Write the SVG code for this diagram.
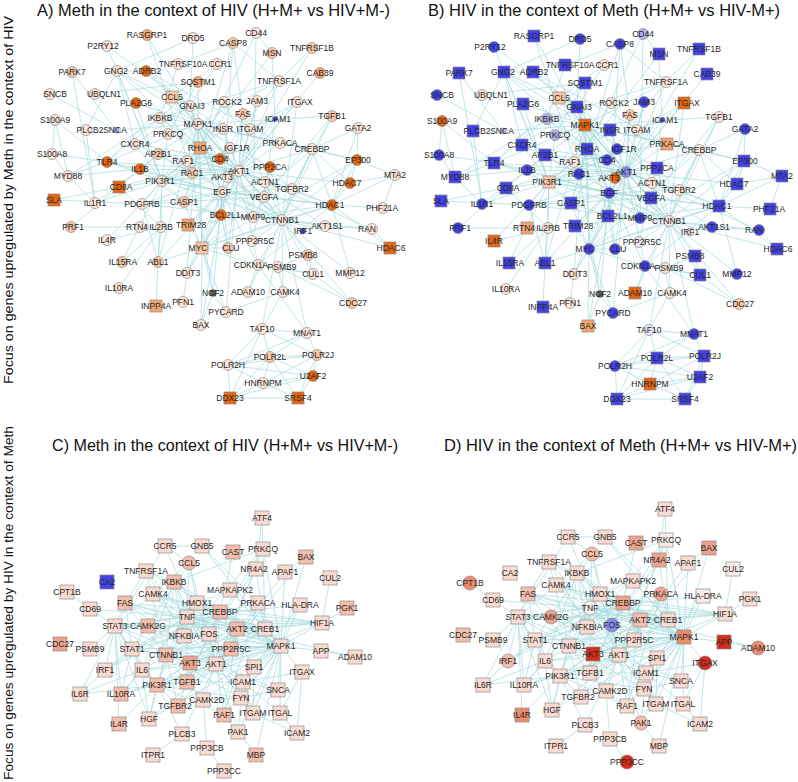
<svg xmlns="http://www.w3.org/2000/svg" width="798" height="782" viewBox="0 0 798 782">
<style>
.e{fill:none;stroke:#a3dadd;stroke-width:.8;stroke-opacity:.85}
.n{stroke:#8c8c8c;stroke-width:.7}
text{font-family:"Liberation Sans",Arial,sans-serif;font-size:8.5px;fill:#262626;text-anchor:middle}
.ttl{font-size:16.5px;fill:#111}
.ax{font-size:13.5px;fill:#111}
.p0{fill:#fde5da}.p1{fill:#f9c8a6}.p2{fill:#f4a56c}.p3{fill:#e6650f}
.bl{fill:#4242e6}.lv{fill:#b3b3f0}.mp{fill:#8c8ce8}.pl{fill:#ece4f2}.gy{fill:#5a5a5a}
.q0{fill:#f8ebe8}.q1{fill:#fadbd2}.q2{fill:#f5bdac}.q3{fill:#f0a38c}.q4{fill:#ed8a6b}.rd{fill:#d42d1c}.wt{fill:#f3efef}.fb{fill:#8686f0}
</style>
<rect width="798" height="782" fill="#fff"/>
<g id="titles">
<text class="ttl" x="213.5" y="16" textLength="353" lengthAdjust="spacingAndGlyphs">A) Meth in the context of HIV (H+M+ vs HIV+M-)</text>
<text class="ttl" x="604" y="16" textLength="352" lengthAdjust="spacingAndGlyphs">B) HIV in the context of Meth (H+M+ vs HIV-M+)</text>
<text class="ttl" x="225" y="451" textLength="346" lengthAdjust="spacingAndGlyphs">C) Meth in the context of HIV (H+M+ vs HIV+M-)</text>
<text class="ttl" x="620.5" y="451" textLength="353" lengthAdjust="spacingAndGlyphs">D) HIV in the context of Meth (H+M+ vs HIV-M+)</text>
<text class="ax" transform="translate(12.5,200) rotate(-90)" textLength="368" lengthAdjust="spacingAndGlyphs">Focus on genes upregulated by Meth in the context of HIV</text>
<text class="ax" transform="translate(12.5,603) rotate(-90)" textLength="354" lengthAdjust="spacingAndGlyphs">Focus on genes upregulated by HIV in the context of Meth</text>
</g>
<g id="connectors">
<path id="edgesA" class="e" d="M147 35 192 173M147 35 198 124M107 46 190 106M107 46 162 181M193 38 190 106M193 38 117 71M256 33 253 217M256 33 200 148M256 33 272 53M233 43 279 81M233 43 178 64M233 43 221 215M233 43 184 202M233 43 243 114M312 48 239 171M312 48 279 81M272 53 200 148M272 53 275 119M72 72 116 130M72 72 95 203M117 71 190 106M117 71 146 71M117 71 135 144M117 71 162 181M117 71 198 124M117 71 86 130M117 71 200 148M146 71 190 106M146 71 198 124M146 71 280 143M178 64 160 118M217 64 190 106M217 64 172 97M320 73 239 171M198 82 198 124M198 82 160 118M198 82 168 134M279 81 160 118M279 81 198 124M279 81 239 171M279 81 184 202M50 94 116 130M95 94 198 82M172 97 200 148M172 97 190 106M172 97 198 124M172 97 239 171M172 97 107 162M136 103 198 124M136 103 162 181M190 106 200 148M190 106 135 144M190 106 198 124M190 106 239 171M190 106 223 129M190 106 222 192M224 102 200 148M224 102 265 182M257 101 250 129M257 101 239 171M297 102 275 119M297 102 250 129M297 102 282 220M243 114 239 171M243 114 221 215M243 114 226 312M275 119 250 129M275 119 222 192M275 119 264 197M332 116 292 189M332 116 264 197M332 116 198 124M332 116 282 220M358 128 357 160M358 128 312 149M358 128 332 205M160 118 239 171M160 118 198 124M160 118 282 220M160 118 107 162M160 118 68 176M198 124 239 171M198 124 187 161M198 124 222 192M198 124 282 220M198 124 202 248M198 124 280 143M198 124 312 149M198 124 357 160M198 124 200 148M198 124 162 181M198 124 140 169M198 124 107 162M198 124 221 215M198 124 270 167M198 124 187 273M198 124 253 217M198 124 158 262M198 124 264 197M198 124 292 189M223 129 162 181M223 129 239 171M223 129 230 148M250 129 239 171M55 120 52 154M55 120 107 162M55 120 68 176M86 130 95 203M116 130 198 124M168 134 160 118M168 134 162 181M168 134 220 159M168 134 198 124M135 144 162 181M135 144 220 159M135 144 192 173M200 148 192 173M200 148 239 171M200 148 222 192M200 148 282 220M200 148 162 181M200 148 184 202M200 148 202 248M230 148 162 181M230 148 239 171M230 148 222 192M280 143 312 149M280 143 239 171M280 143 187 161M312 149 357 160M312 149 282 220M312 149 332 205M312 149 239 171M312 149 202 248M312 149 292 189M312 149 350 183M357 160 332 205M357 160 282 220M357 160 350 183M357 160 395 175M357 160 202 248M52 154 107 162M52 154 68 176M158 154 239 171M158 154 192 173M158 154 220 159M158 154 119 187M107 162 68 176M107 162 140 169M107 162 162 181M107 162 239 171M107 162 222 192M187 161 239 171M187 161 222 192M187 161 162 181M220 159 119 187M220 159 162 181M220 159 239 171M270 167 239 171M270 167 282 220M270 167 252 241M270 167 292 189M395 175 332 205M395 175 350 183M395 175 383 208M140 169 95 203M140 169 68 176M140 169 184 202M140 169 222 192M140 169 239 171M68 176 95 203M192 173 162 181M192 173 239 171M192 173 282 220M192 173 213 293M228 177 162 181M228 177 282 220M239 171 222 192M239 171 282 220M239 171 162 181M239 171 221 215M239 171 264 197M239 171 202 248M239 171 253 217M239 171 325 226M239 171 332 205M239 171 292 189M239 171 265 182M239 171 142 204M239 171 258 265M239 171 228 248M239 171 188 225M239 171 350 183M239 171 372 229M239 171 297 102M350 183 332 205M162 181 222 192M162 181 119 187M162 181 142 204M162 181 161 227M162 181 95 203M162 181 107 240M162 181 122 262M162 181 184 202M162 181 282 220M162 181 158 262M162 181 264 197M265 182 282 220M265 182 222 192M292 189 282 220M292 189 222 192M292 189 332 205M119 187 54 200M119 187 161 227M119 187 71 227M222 192 282 220M222 192 264 197M222 192 253 217M222 192 221 215M222 192 202 248M222 192 142 204M222 192 184 202M222 192 188 225M222 192 158 262M222 192 228 248M222 192 332 205M222 192 258 265M222 192 187 273M222 192 213 293M264 197 282 220M264 197 253 217M264 197 332 205M264 197 142 204M54 200 142 204M142 204 158 262M142 204 282 220M184 202 226 312M184 202 221 215M332 205 282 220M332 205 383 208M332 205 390 248M332 205 202 248M332 205 258 265M332 205 188 225M221 215 202 248M221 215 282 220M221 215 228 248M221 215 201 325M221 215 187 273M253 217 282 220M282 220 202 248M282 220 308 255M282 220 325 226M282 220 303 231M282 220 313 274M282 220 258 265M282 220 252 241M282 220 283 292M282 220 262 329M282 220 307 333M282 220 372 229M282 220 390 248M282 220 352 303M282 220 350 273M282 220 248 292M71 227 161 227M161 227 107 240M161 227 122 262M161 227 158 262M188 225 202 248M325 226 372 229M372 229 390 248M202 248 258 265M202 248 228 248M202 248 187 273M202 248 201 325M202 248 213 293M202 248 158 262M308 255 278 267M308 255 313 274M258 265 278 267M258 265 313 274M258 265 307 333M258 265 248 292M278 267 313 274M278 267 283 292M278 267 352 303M187 273 183 302M313 274 352 303M350 273 332 205M119 288 161 227M213 293 201 325M213 293 226 312M283 292 226 312M283 292 262 329M156 306 158 262M262 329 307 333M262 329 270 357M262 329 228 365M262 329 317 355M262 329 230 398M307 333 317 355M307 333 270 357M307 333 228 365M270 357 317 355M270 357 228 365M270 357 263 383M270 357 313 376M270 357 230 398M270 357 298 398M317 355 228 365M317 355 313 376M317 355 263 383M317 355 298 398M228 365 263 383M228 365 230 398M228 365 313 376M313 376 263 383M313 376 230 398M313 376 298 398M263 383 230 398M263 383 298 398M230 398 298 398"/>
<use href="#edgesA" transform="translate(387,1)"/>
<path id="edgesC" class="e" d="M262 518 265 629M262 518 256 569M165 546 202 546M165 546 189 563M165 546 216 664M165 546 115 626M202 546 281 646M202 546 258 603M233 552 220 612M263 549 174 582M263 549 281 646M263 549 209 634M263 549 184 636M263 549 216 664M306 557 285 572M306 557 281 646M306 557 216 664M189 563 216 664M189 563 115 626M189 563 187 617M189 563 197 603M189 563 132 649M146 571 187 617M146 571 174 582M146 571 125 603M146 571 184 636M146 571 281 646M146 571 166 655M256 569 265 629M256 569 209 634M256 569 216 664M285 572 281 646M285 572 216 664M330 578 322 623M174 582 184 636M174 582 187 617M174 582 216 664M174 582 166 655M174 582 237 629M174 582 142 670M174 582 281 646M67 592 90 609M153 594 220 612M153 594 265 629M153 594 209 634M153 594 216 664M153 594 281 646M230 590 265 629M230 590 281 646M230 590 197 603M125 603 187 617M125 603 216 664M125 603 115 626M125 603 132 649M125 603 220 612M125 603 281 646M125 603 166 655M125 603 231 649M197 603 187 617M197 603 281 646M197 603 216 664M197 603 322 623M258 603 265 629M258 603 220 612M258 603 281 646M258 603 224 715M258 603 216 664M300 605 254 667M300 605 281 646M300 605 187 617M347 608 322 623M90 609 187 617M90 609 115 626M220 612 265 629M220 612 115 626M220 612 132 649M220 612 166 655M220 612 216 664M220 612 281 646M220 612 322 623M220 612 209 634M220 612 184 636M220 612 254 667M220 612 105 670M220 612 187 682M187 617 184 636M187 617 216 664M187 617 281 646M187 617 142 670M187 617 132 649M187 617 209 634M187 617 237 629M187 617 243 682M187 617 121 694M187 617 265 629M187 617 187 682M187 617 105 670M187 617 355 657M187 617 157 685M187 617 322 623M187 617 166 655M187 617 115 626M322 623 281 646M322 623 216 664M322 623 237 629M322 623 115 626M322 623 265 629M115 626 132 649M115 626 142 670M115 626 80 694M115 626 216 664M115 626 166 655M115 626 105 670M115 626 157 685M115 626 121 694M115 626 281 646M115 626 149 719M115 626 148 626M115 626 119 724M115 626 90 649M148 626 265 629M148 626 216 664M237 629 216 664M237 629 281 646M237 629 157 685M237 629 166 655M237 629 265 629M237 629 224 715M237 629 231 649M265 629 281 646M265 629 216 664M265 629 231 649M265 629 166 655M184 636 216 664M184 636 166 655M184 636 132 649M209 634 281 646M209 634 216 664M209 634 187 682M209 634 166 655M60 644 90 649M132 649 105 670M132 649 142 670M132 649 216 664M132 649 281 646M132 649 121 694M132 649 157 685M132 649 166 655M166 655 216 664M166 655 157 685M166 655 281 646M166 655 187 682M166 655 178 706M166 655 241 698M166 655 243 682M166 655 149 719M166 655 142 670M166 655 190 663M231 649 216 664M231 649 281 646M231 649 190 663M281 646 216 664M281 646 254 667M281 646 302 672M281 646 321 651M281 646 157 685M281 646 187 682M281 646 243 682M281 646 224 715M281 646 241 698M281 646 278 690M281 646 253 713M281 646 203 700M281 646 238 732M281 646 142 670M281 646 280 713M281 646 149 719M281 646 256 755M321 651 355 657M190 663 157 685M190 663 187 682M216 664 157 685M216 664 187 682M216 664 243 682M216 664 224 715M216 664 241 698M216 664 203 700M216 664 238 732M216 664 142 670M216 664 254 667M216 664 178 706M216 664 182 734M216 664 149 719M216 664 253 713M216 664 278 690M216 664 121 694M105 670 80 694M142 670 80 694M142 670 157 685M142 670 121 694M142 670 149 719M254 667 253 713M254 667 243 682M302 672 243 682M302 672 297 733M302 672 280 713M157 685 80 694M157 685 121 694M157 685 119 724M157 685 149 719M157 685 241 698M157 685 182 734M157 685 224 715M157 685 187 682M157 685 178 706M187 682 178 706M187 682 243 682M187 682 203 700M243 682 253 713M243 682 280 713M243 682 241 698M243 682 278 690M278 690 241 698M241 698 238 732M241 698 253 713M241 698 203 700M203 700 207 748M203 700 224 715M224 715 238 732M238 732 256 755M253 713 297 733M280 713 297 733M182 734 153 755M207 748 224 771"/>
<use href="#edgesC" transform="translate(403,-9)"/>
</g>
<g id="panelA">
<g id="a-RASGRP1"><circle class="n p2" cx="147" cy="35" r="5.5"/><text x="147" y="38">RASGRP1</text></g>
<g id="a-P2RY12"><circle class="n p0" cx="107" cy="46" r="5.5"/><text x="103" y="49">P2RY12</text></g>
<g id="a-DRD5"><circle class="n p0" cx="193" cy="38" r="5.5"/><text x="193" y="41">DRD5</text></g>
<g id="a-CD44"><circle class="n p0" cx="256" cy="33" r="5.5"/><text x="256" y="36">CD44</text></g>
<g id="a-CASP8"><circle class="n p1" cx="233" cy="43" r="5.5"/><text x="233" y="46">CASP8</text></g>
<g id="a-TNFRSF1B"><circle class="n p1" cx="312" cy="48" r="5.5"/><text x="312" y="51">TNFRSF1B</text></g>
<g id="a-MSN"><circle class="n p1" cx="272" cy="53" r="5.5"/><text x="272" y="56">MSN</text></g>
<g id="a-PARK7"><circle class="n p1" cx="72" cy="72" r="5.5"/><text x="72" y="75">PARK7</text></g>
<g id="a-GNG2"><circle class="n p0" cx="117" cy="71" r="5.5"/><text x="116" y="74">GNG2</text></g>
<g id="a-ADRB2"><circle class="n p3" cx="146" cy="71" r="5.5"/><text x="147" y="74">ADRB2</text></g>
<g id="a-TNFRSF10A"><circle class="n p0" cx="178" cy="64" r="5.5"/><text x="183" y="67">TNFRSF10A</text></g>
<g id="a-CCR1"><circle class="n p0" cx="217" cy="64" r="5.5"/><text x="220" y="67">CCR1</text></g>
<g id="a-CAB39"><circle class="n p2" cx="320" cy="73" r="5.5"/><text x="320" y="76">CAB39</text></g>
<g id="a-SQSTM1"><circle class="n p2" cx="198" cy="82" r="5.5"/><text x="198" y="85">SQSTM1</text></g>
<g id="a-TNFRSF1A"><circle class="n p0" cx="279" cy="81" r="5.5"/><text x="279" y="84">TNFRSF1A</text></g>
<g id="a-SNCB"><circle class="n p0" cx="50" cy="94" r="5.5"/><text x="55" y="97">SNCB</text></g>
<g id="a-UBQLN1"><circle class="n p0" cx="95" cy="94" r="5.5"/><text x="104" y="97">UBQLN1</text></g>
<g id="a-CCL5"><rect class="n p1" x="166" y="91" width="12" height="12"/><text x="172" y="100">CCL5</text></g>
<g id="a-PLA2G6"><circle class="n p3" cx="136" cy="103" r="5.5"/><text x="136" y="106">PLA2G6</text></g>
<g id="a-GNAI3"><circle class="n p0" cx="190" cy="106" r="5.5"/><text x="192" y="109">GNAI3</text></g>
<g id="a-ROCK2"><circle class="n p0" cx="224" cy="102" r="5.5"/><text x="227" y="105">ROCK2</text></g>
<g id="a-JAM3"><circle class="n p0" cx="257" cy="101" r="5.5"/><text x="257" y="104">JAM3</text></g>
<g id="a-ITGAX"><circle class="n p0" cx="297" cy="102" r="5.5"/><text x="300" y="105">ITGAX</text></g>
<g id="a-FAS"><circle class="n p1" cx="243" cy="114" r="5.5"/><text x="243" y="117">FAS</text></g>
<g id="a-ICAM1"><circle class="n bl" cx="275" cy="119" r="2.5"/><text x="278" y="122">ICAM1</text></g>
<g id="a-TGFB1"><circle class="n p1" cx="332" cy="116" r="5.5"/><text x="332" y="119">TGFB1</text></g>
<g id="a-GATA2"><circle class="n p0" cx="358" cy="128" r="5.5"/><text x="358" y="131">GATA2</text></g>
<g id="a-IKBKB"><circle class="n p0" cx="160" cy="118" r="5.5"/><text x="160" y="121">IKBKB</text></g>
<g id="a-MAPK1"><circle class="n p0" cx="198" cy="124" r="5.5"/><text x="198" y="127">MAPK1</text></g>
<g id="a-INSR"><circle class="n p0" cx="223" cy="129" r="5.5"/><text x="223" y="132">INSR</text></g>
<g id="a-ITGAM"><circle class="n p0" cx="250" cy="129" r="5.5"/><text x="250" y="132">ITGAM</text></g>
<g id="a-S100A9"><circle class="n p0" cx="55" cy="120" r="5.5"/><text x="55" y="123">S100A9</text></g>
<g id="a-PLCB2"><circle class="n p0" cx="86" cy="130" r="5.5"/><text x="90" y="133">PLCB2</text></g>
<g id="a-SNCA"><circle class="n lv" cx="116" cy="130" r="3"/><text x="115" y="133">SNCA</text></g>
<g id="a-PRKCQ"><circle class="n p0" cx="168" cy="134" r="5.5"/><text x="168" y="137">PRKCQ</text></g>
<g id="a-CXCR4"><circle class="n p0" cx="135" cy="144" r="5.5"/><text x="135" y="147">CXCR4</text></g>
<g id="a-RHOA"><rect class="n p2" x="194" y="142" width="12" height="12"/><text x="200" y="151">RHOA</text></g>
<g id="a-IGF1R"><circle class="n p0" cx="230" cy="148" r="5.5"/><text x="237" y="151">IGF1R</text></g>
<g id="a-PRKACA"><circle class="n p0" cx="280" cy="143" r="5.5"/><text x="280" y="146">PRKACA</text></g>
<g id="a-CREBBP"><circle class="n p0" cx="312" cy="149" r="5.5"/><text x="312" y="152">CREBBP</text></g>
<g id="a-EP300"><circle class="n p3" cx="357" cy="160" r="5.5"/><text x="358" y="163">EP300</text></g>
<g id="a-S100A8"><circle class="n p0" cx="52" cy="154" r="5.5"/><text x="52" y="157">S100A8</text></g>
<g id="a-AP2B1"><circle class="n p1" cx="158" cy="154" r="5.5"/><text x="158" y="157">AP2B1</text></g>
<g id="a-TLR4"><circle class="n p3" cx="107" cy="162" r="5.5"/><text x="107" y="165">TLR4</text></g>
<g id="a-RAF1"><circle class="n p0" cx="187" cy="161" r="5.5"/><text x="183" y="164">RAF1</text></g>
<g id="a-CD4"><circle class="n p3" cx="220" cy="159" r="5.5"/><text x="220" y="162">CD4</text></g>
<g id="a-PPP2CA"><circle class="n p3" cx="270" cy="167" r="5.5"/><text x="270" y="170">PPP2CA</text></g>
<g id="a-MTA2"><circle class="n p0" cx="395" cy="175" r="5.5"/><text x="395" y="178">MTA2</text></g>
<g id="a-IL1B"><circle class="n p3" cx="140" cy="169" r="5.5"/><text x="140" y="172">IL1B</text></g>
<g id="a-MYD88"><circle class="n p0" cx="68" cy="176" r="5.5"/><text x="68" y="179">MYD88</text></g>
<g id="a-RAC1"><circle class="n p1" cx="192" cy="173" r="5.5"/><text x="192" y="176">RAC1</text></g>
<g id="a-AKT3"><circle class="n p0" cx="228" cy="177" r="5.5"/><text x="222" y="180">AKT3</text></g>
<g id="a-AKT1"><circle class="n p0" cx="239" cy="171" r="5.5"/><text x="239" y="174">AKT1</text></g>
<g id="a-HDAC7"><circle class="n p3" cx="350" cy="183" r="5.5"/><text x="347" y="186">HDAC7</text></g>
<g id="a-PIK3R1"><circle class="n p0" cx="162" cy="181" r="5.5"/><text x="160" y="184">PIK3R1</text></g>
<g id="a-ACTN1"><circle class="n p0" cx="265" cy="182" r="5.5"/><text x="265" y="185">ACTN1</text></g>
<g id="a-TGFBR2"><circle class="n p0" cx="292" cy="189" r="5.5"/><text x="292" y="192">TGFBR2</text></g>
<g id="a-CD8A"><rect class="n p3" x="113" y="181" width="12" height="12"/><text x="121" y="190">CD8A</text></g>
<g id="a-EGF"><circle class="n p0" cx="222" cy="192" r="5.5"/><text x="222" y="195">EGF</text></g>
<g id="a-VEGFA"><circle class="n p0" cx="264" cy="197" r="5.5"/><text x="264" y="200">VEGFA</text></g>
<g id="a-SLA"><rect class="n p3" x="48" y="194" width="12" height="12"/><text x="54" y="203">SLA</text></g>
<g id="a-IL1R1"><circle class="n p0" cx="95" cy="203" r="5.5"/><text x="95" y="206">IL1R1</text></g>
<g id="a-PDGFRB"><circle class="n p0" cx="142" cy="204" r="5.5"/><text x="142" y="207">PDGFRB</text></g>
<g id="a-CASP1"><circle class="n p1" cx="184" cy="202" r="5.5"/><text x="184" y="205">CASP1</text></g>
<g id="a-HDAC1"><circle class="n p3" cx="332" cy="205" r="5.5"/><text x="330" y="208">HDAC1</text></g>
<g id="a-PHF21A"><circle class="n p0" cx="383" cy="208" r="5.5"/><text x="382" y="211">PHF21A</text></g>
<g id="a-BCL2L1"><circle class="n p3" cx="221" cy="215" r="5.5"/><text x="225" y="218">BCL2L1</text></g>
<g id="a-MMP9"><circle class="n p0" cx="253" cy="217" r="5.5"/><text x="253" y="220">MMP9</text></g>
<g id="a-CTNNB1"><circle class="n p0" cx="282" cy="220" r="5.5"/><text x="282" y="223">CTNNB1</text></g>
<g id="a-PRF1"><circle class="n p1" cx="71" cy="227" r="5.5"/><text x="73" y="230">PRF1</text></g>
<g id="a-RTN4"><circle class="n p0" cx="140" cy="227" r="5.5"/><text x="137" y="230">RTN4</text></g>
<g id="a-IL2RB"><circle class="n p0" cx="161" cy="227" r="5.5"/><text x="161" y="230">IL2RB</text></g>
<g id="a-TRIM28"><rect class="n p2" x="182" y="219" width="12" height="12"/><text x="191" y="228">TRIM28</text></g>
<g id="a-AKT1S1"><circle class="n p0" cx="325" cy="226" r="5.5"/><text x="327" y="229">AKT1S1</text></g>
<g id="a-RAN"><circle class="n p0" cx="372" cy="229" r="5.5"/><text x="367" y="232">RAN</text></g>
<g id="a-IRF1"><circle class="n bl" cx="303" cy="231" r="3"/><text x="303" y="234">IRF1</text></g>
<g id="a-IL4R"><circle class="n p0" cx="107" cy="240" r="5.5"/><text x="107" y="243">IL4R</text></g>
<g id="a-HDAC6"><rect class="n p3" x="384" y="242" width="12" height="12"/><text x="391" y="251">HDAC6</text></g>
<g id="a-MYC"><rect class="n p1" x="196" y="242" width="12" height="12"/><text x="198" y="251">MYC</text></g>
<g id="a-CLU"><circle class="n p1" cx="228" cy="248" r="5.5"/><text x="231" y="251">CLU</text></g>
<g id="a-PPP2R5C"><circle class="n p0" cx="252" cy="241" r="5.5"/><text x="255" y="244">PPP2R5C</text></g>
<g id="a-PSMB8"><circle class="n p1" cx="308" cy="255" r="5.5"/><text x="303" y="258">PSMB8</text></g>
<g id="a-IL15RA"><circle class="n p1" cx="122" cy="262" r="5.5"/><text x="123" y="265">IL15RA</text></g>
<g id="a-ABL1"><circle class="n p1" cx="158" cy="262" r="5.5"/><text x="158" y="265">ABL1</text></g>
<g id="a-CDKN1A"><circle class="n p0" cx="258" cy="265" r="5.5"/><text x="251" y="268">CDKN1A</text></g>
<g id="a-PSMB9"><circle class="n p0" cx="278" cy="267" r="5.5"/><text x="282" y="270">PSMB9</text></g>
<g id="a-DDIT3"><circle class="n p0" cx="187" cy="273" r="5.5"/><text x="188" y="276">DDIT3</text></g>
<g id="a-CUL1"><circle class="n p0" cx="313" cy="274" r="5.5"/><text x="313" y="277">CUL1</text></g>
<g id="a-MMP12"><circle class="n p0" cx="350" cy="273" r="5.5"/><text x="350" y="276">MMP12</text></g>
<g id="a-IL10RA"><circle class="n p0" cx="119" cy="288" r="5.5"/><text x="119" y="291">IL10RA</text></g>
<g id="a-NCF2"><circle class="n gy" cx="213" cy="293" r="3.5"/><text x="213" y="296">NCF2</text></g>
<g id="a-ADAM10"><circle class="n p0" cx="248" cy="292" r="5.5"/><text x="248" y="295">ADAM10</text></g>
<g id="a-CAMK4"><circle class="n p0" cx="283" cy="292" r="5.5"/><text x="285" y="295">CAMK4</text></g>
<g id="a-INPP4A"><rect class="n p2" x="150" y="300" width="12" height="12"/><text x="156" y="309">INPP4A</text></g>
<g id="a-PFN1"><circle class="n p0" cx="183" cy="302" r="5.5"/><text x="183" y="305">PFN1</text></g>
<g id="a-CDC27"><circle class="n p1" cx="352" cy="303" r="5.5"/><text x="353" y="306">CDC27</text></g>
<g id="a-PYCARD"><circle class="n p0" cx="226" cy="312" r="5.5"/><text x="226" y="315">PYCARD</text></g>
<g id="a-BAX"><circle class="n p0" cx="201" cy="325" r="5.5"/><text x="201" y="328">BAX</text></g>
<g id="a-TAF10"><circle class="n p0" cx="262" cy="329" r="5.5"/><text x="262" y="332">TAF10</text></g>
<g id="a-MNAT1"><circle class="n p0" cx="307" cy="333" r="5.5"/><text x="307" y="336">MNAT1</text></g>
<g id="a-POLR2L"><circle class="n p1" cx="270" cy="357" r="5.5"/><text x="270" y="360">POLR2L</text></g>
<g id="a-POLR2J"><circle class="n p1" cx="317" cy="355" r="5.5"/><text x="318" y="358">POLR2J</text></g>
<g id="a-POLR2H"><circle class="n p0" cx="228" cy="365" r="5.5"/><text x="228" y="368">POLR2H</text></g>
<g id="a-U2AF2"><circle class="n p3" cx="313" cy="376" r="5.5"/><text x="313" y="379">U2AF2</text></g>
<g id="a-HNRNPM"><circle class="n p0" cx="263" cy="383" r="5.5"/><text x="263" y="386">HNRNPM</text></g>
<g id="a-DDX23"><rect class="n p3" x="224" y="392" width="12" height="12"/><text x="230" y="401">DDX23</text></g>
<g id="a-SRSF4"><rect class="n p3" x="292" y="392" width="12" height="12"/><text x="298" y="401">SRSF4</text></g>
</g>
<g id="panelB" transform="translate(387,1)">
<g id="b-RASGRP1"><rect class="n bl" x="141" y="29" width="12" height="12"/><text x="147" y="38">RASGRP1</text></g>
<g id="b-P2RY12"><circle class="n bl" cx="107" cy="46" r="5.5"/><text x="103" y="49">P2RY12</text></g>
<g id="b-DRD5"><circle class="n bl" cx="193" cy="38" r="5.5"/><text x="193" y="41">DRD5</text></g>
<g id="b-CD44"><circle class="n lv" cx="256" cy="33" r="5.5"/><text x="256" y="36">CD44</text></g>
<g id="b-CASP8"><circle class="n bl" cx="233" cy="43" r="5.5"/><text x="233" y="46">CASP8</text></g>
<g id="b-TNFRSF1B"><rect class="n bl" x="306" y="42" width="12" height="12"/><text x="312" y="51">TNFRSF1B</text></g>
<g id="b-MSN"><rect class="n bl" x="266" y="47" width="12" height="12"/><text x="272" y="56">MSN</text></g>
<g id="b-PARK7"><rect class="n bl" x="66" y="66" width="12" height="12"/><text x="72" y="75">PARK7</text></g>
<g id="b-GNG2"><rect class="n bl" x="111" y="65" width="12" height="12"/><text x="116" y="74">GNG2</text></g>
<g id="b-ADRB2"><rect class="n bl" x="140" y="65" width="12" height="12"/><text x="147" y="74">ADRB2</text></g>
<g id="b-TNFRSF10A"><rect class="n bl" x="172" y="58" width="12" height="12"/><text x="183" y="67">TNFRSF10A</text></g>
<g id="b-CCR1"><circle class="n p0" cx="217" cy="64" r="5.5"/><text x="220" y="67">CCR1</text></g>
<g id="b-CAB39"><rect class="n bl" x="314" y="67" width="12" height="12"/><text x="320" y="76">CAB39</text></g>
<g id="b-SQSTM1"><rect class="n bl" x="192" y="76" width="12" height="12"/><text x="198" y="85">SQSTM1</text></g>
<g id="b-TNFRSF1A"><circle class="n p0" cx="279" cy="81" r="5.5"/><text x="279" y="84">TNFRSF1A</text></g>
<g id="b-SNCB"><circle class="n bl" cx="50" cy="94" r="5.5"/><text x="55" y="97">SNCB</text></g>
<g id="b-UBQLN1"><circle class="n p0" cx="95" cy="94" r="5.5"/><text x="104" y="97">UBQLN1</text></g>
<g id="b-CCL5"><rect class="n p1" x="166" y="91" width="12" height="12"/><text x="172" y="100">CCL5</text></g>
<g id="b-PLA2G6"><rect class="n bl" x="130" y="97" width="12" height="12"/><text x="136" y="106">PLA2G6</text></g>
<g id="b-GNAI3"><rect class="n bl" x="184" y="100" width="12" height="12"/><text x="192" y="109">GNAI3</text></g>
<g id="b-ROCK2"><circle class="n p0" cx="224" cy="102" r="5.5"/><text x="227" y="105">ROCK2</text></g>
<g id="b-JAM3"><circle class="n bl" cx="257" cy="101" r="5.5"/><text x="257" y="104">JAM3</text></g>
<g id="b-ITGAX"><rect class="n p3" x="291" y="96" width="12" height="12"/><text x="300" y="105">ITGAX</text></g>
<g id="b-FAS"><circle class="n p1" cx="243" cy="114" r="5.5"/><text x="243" y="117">FAS</text></g>
<g id="b-ICAM1"><circle class="n bl" cx="275" cy="119" r="2.5"/><text x="278" y="122">ICAM1</text></g>
<g id="b-TGFB1"><circle class="n p0" cx="332" cy="116" r="5.5"/><text x="332" y="119">TGFB1</text></g>
<g id="b-GATA2"><circle class="n bl" cx="358" cy="128" r="5.5"/><text x="358" y="131">GATA2</text></g>
<g id="b-IKBKB"><circle class="n lv" cx="160" cy="118" r="5.5"/><text x="160" y="121">IKBKB</text></g>
<g id="b-MAPK1"><rect class="n p3" x="192" y="118" width="12" height="12"/><text x="198" y="127">MAPK1</text></g>
<g id="b-INSR"><rect class="n bl" x="217" y="123" width="12" height="12"/><text x="223" y="132">INSR</text></g>
<g id="b-ITGAM"><circle class="n p0" cx="250" cy="129" r="5.5"/><text x="250" y="132">ITGAM</text></g>
<g id="b-S100A9"><circle class="n p3" cx="55" cy="120" r="5.5"/><text x="55" y="123">S100A9</text></g>
<g id="b-PLCB2"><rect class="n bl" x="80" y="124" width="12" height="12"/><text x="90" y="133">PLCB2</text></g>
<g id="b-SNCA"><circle class="n lv" cx="116" cy="130" r="3"/><text x="115" y="133">SNCA</text></g>
<g id="b-PRKCQ"><circle class="n lv" cx="168" cy="134" r="5.5"/><text x="168" y="137">PRKCQ</text></g>
<g id="b-CXCR4"><rect class="n bl" x="129" y="138" width="12" height="12"/><text x="135" y="147">CXCR4</text></g>
<g id="b-RHOA"><rect class="n bl" x="194" y="142" width="12" height="12"/><text x="200" y="151">RHOA</text></g>
<g id="b-IGF1R"><circle class="n bl" cx="230" cy="148" r="5.5"/><text x="237" y="151">IGF1R</text></g>
<g id="b-PRKACA"><rect class="n p2" x="274" y="137" width="12" height="12"/><text x="280" y="146">PRKACA</text></g>
<g id="b-CREBBP"><circle class="n p0" cx="312" cy="149" r="5.5"/><text x="312" y="152">CREBBP</text></g>
<g id="b-EP300"><rect class="n bl" x="351" y="154" width="12" height="12"/><text x="358" y="163">EP300</text></g>
<g id="b-S100A8"><circle class="n bl" cx="52" cy="154" r="5.5"/><text x="52" y="157">S100A8</text></g>
<g id="b-AP2B1"><rect class="n bl" x="152" y="148" width="12" height="12"/><text x="158" y="157">AP2B1</text></g>
<g id="b-TLR4"><rect class="n bl" x="101" y="156" width="12" height="12"/><text x="107" y="165">TLR4</text></g>
<g id="b-RAF1"><circle class="n p0" cx="187" cy="161" r="5.5"/><text x="183" y="164">RAF1</text></g>
<g id="b-CD4"><circle class="n bl" cx="220" cy="159" r="5.5"/><text x="220" y="162">CD4</text></g>
<g id="b-PPP2CA"><rect class="n bl" x="264" y="161" width="12" height="12"/><text x="270" y="170">PPP2CA</text></g>
<g id="b-MTA2"><rect class="n bl" x="389" y="169" width="12" height="12"/><text x="395" y="178">MTA2</text></g>
<g id="b-IL1B"><circle class="n bl" cx="140" cy="169" r="5.5"/><text x="140" y="172">IL1B</text></g>
<g id="b-MYD88"><rect class="n bl" x="62" y="170" width="12" height="12"/><text x="68" y="179">MYD88</text></g>
<g id="b-RAC1"><circle class="n bl" cx="192" cy="173" r="5.5"/><text x="192" y="176">RAC1</text></g>
<g id="b-AKT3"><circle class="n p3" cx="228" cy="177" r="5.5"/><text x="222" y="180">AKT3</text></g>
<g id="b-AKT1"><circle class="n mp" cx="239" cy="171" r="5.5"/><text x="239" y="174">AKT1</text></g>
<g id="b-HDAC7"><rect class="n bl" x="344" y="177" width="12" height="12"/><text x="347" y="186">HDAC7</text></g>
<g id="b-PIK3R1"><rect class="n p1" x="156" y="175" width="12" height="12"/><text x="160" y="184">PIK3R1</text></g>
<g id="b-ACTN1"><circle class="n p0" cx="265" cy="182" r="5.5"/><text x="265" y="185">ACTN1</text></g>
<g id="b-TGFBR2"><circle class="n p0" cx="292" cy="189" r="5.5"/><text x="292" y="192">TGFBR2</text></g>
<g id="b-CD8A"><rect class="n bl" x="113" y="181" width="12" height="12"/><text x="121" y="190">CD8A</text></g>
<g id="b-EGF"><circle class="n bl" cx="222" cy="192" r="5.5"/><text x="222" y="195">EGF</text></g>
<g id="b-VEGFA"><rect class="n bl" x="258" y="191" width="12" height="12"/><text x="264" y="200">VEGFA</text></g>
<g id="b-SLA"><rect class="n bl" x="48" y="194" width="12" height="12"/><text x="54" y="203">SLA</text></g>
<g id="b-IL1R1"><circle class="n bl" cx="95" cy="203" r="5.5"/><text x="95" y="206">IL1R1</text></g>
<g id="b-PDGFRB"><circle class="n bl" cx="142" cy="204" r="5.5"/><text x="142" y="207">PDGFRB</text></g>
<g id="b-CASP1"><rect class="n bl" x="178" y="196" width="12" height="12"/><text x="184" y="205">CASP1</text></g>
<g id="b-HDAC1"><rect class="n bl" x="326" y="199" width="12" height="12"/><text x="330" y="208">HDAC1</text></g>
<g id="b-PHF21A"><rect class="n bl" x="377" y="202" width="12" height="12"/><text x="382" y="211">PHF21A</text></g>
<g id="b-BCL2L1"><rect class="n bl" x="215" y="209" width="12" height="12"/><text x="225" y="218">BCL2L1</text></g>
<g id="b-MMP9"><circle class="n bl" cx="253" cy="217" r="5.5"/><text x="253" y="220">MMP9</text></g>
<g id="b-CTNNB1"><circle class="n p0" cx="282" cy="220" r="5.5"/><text x="282" y="223">CTNNB1</text></g>
<g id="b-PRF1"><circle class="n bl" cx="71" cy="227" r="5.5"/><text x="73" y="230">PRF1</text></g>
<g id="b-RTN4"><rect class="n p2" x="134" y="221" width="12" height="12"/><text x="137" y="230">RTN4</text></g>
<g id="b-IL2RB"><circle class="n p0" cx="161" cy="227" r="5.5"/><text x="161" y="230">IL2RB</text></g>
<g id="b-TRIM28"><rect class="n bl" x="182" y="219" width="12" height="12"/><text x="191" y="228">TRIM28</text></g>
<g id="b-AKT1S1"><circle class="n bl" cx="325" cy="226" r="5.5"/><text x="327" y="229">AKT1S1</text></g>
<g id="b-RAN"><circle class="n bl" cx="372" cy="229" r="5.5"/><text x="367" y="232">RAN</text></g>
<g id="b-IRF1"><circle class="n p0" cx="303" cy="231" r="4"/><text x="303" y="234">IRF1</text></g>
<g id="b-IL4R"><rect class="n p3" x="101" y="234" width="12" height="12"/><text x="107" y="243">IL4R</text></g>
<g id="b-HDAC6"><rect class="n bl" x="384" y="242" width="12" height="12"/><text x="391" y="251">HDAC6</text></g>
<g id="b-MYC"><circle class="n bl" cx="202" cy="248" r="5.5"/><text x="198" y="251">MYC</text></g>
<g id="b-CLU"><circle class="n bl" cx="228" cy="248" r="5.5"/><text x="231" y="251">CLU</text></g>
<g id="b-PPP2R5C"><circle class="n pl" cx="252" cy="241" r="5.5"/><text x="255" y="244">PPP2R5C</text></g>
<g id="b-PSMB8"><rect class="n bl" x="302" y="249" width="12" height="12"/><text x="303" y="258">PSMB8</text></g>
<g id="b-IL15RA"><rect class="n bl" x="116" y="256" width="12" height="12"/><text x="123" y="265">IL15RA</text></g>
<g id="b-ABL1"><rect class="n bl" x="152" y="256" width="12" height="12"/><text x="158" y="265">ABL1</text></g>
<g id="b-CDKN1A"><circle class="n bl" cx="258" cy="265" r="5.5"/><text x="251" y="268">CDKN1A</text></g>
<g id="b-PSMB9"><circle class="n p0" cx="278" cy="267" r="5.5"/><text x="282" y="270">PSMB9</text></g>
<g id="b-DDIT3"><circle class="n p0" cx="187" cy="273" r="5.5"/><text x="188" y="276">DDIT3</text></g>
<g id="b-CUL1"><rect class="n bl" x="307" y="268" width="12" height="12"/><text x="313" y="277">CUL1</text></g>
<g id="b-MMP12"><circle class="n bl" cx="350" cy="273" r="5.5"/><text x="350" y="276">MMP12</text></g>
<g id="b-IL10RA"><circle class="n p0" cx="119" cy="288" r="5.5"/><text x="119" y="291">IL10RA</text></g>
<g id="b-NCF2"><circle class="n gy" cx="213" cy="293" r="3.5"/><text x="213" y="296">NCF2</text></g>
<g id="b-ADAM10"><rect class="n p3" x="242" y="286" width="12" height="12"/><text x="248" y="295">ADAM10</text></g>
<g id="b-CAMK4"><circle class="n p0" cx="283" cy="292" r="5.5"/><text x="285" y="295">CAMK4</text></g>
<g id="b-INPP4A"><rect class="n bl" x="150" y="300" width="12" height="12"/><text x="156" y="309">INPP4A</text></g>
<g id="b-PFN1"><circle class="n p0" cx="183" cy="302" r="5.5"/><text x="183" y="305">PFN1</text></g>
<g id="b-CDC27"><circle class="n p1" cx="352" cy="303" r="5.5"/><text x="353" y="306">CDC27</text></g>
<g id="b-PYCARD"><circle class="n bl" cx="226" cy="312" r="5.5"/><text x="226" y="315">PYCARD</text></g>
<g id="b-BAX"><rect class="n p2" x="195" y="319" width="12" height="12"/><text x="201" y="328">BAX</text></g>
<g id="b-TAF10"><circle class="n pl" cx="262" cy="329" r="5.5"/><text x="262" y="332">TAF10</text></g>
<g id="b-MNAT1"><circle class="n bl" cx="307" cy="333" r="5.5"/><text x="307" y="336">MNAT1</text></g>
<g id="b-POLR2L"><rect class="n bl" x="264" y="351" width="12" height="12"/><text x="270" y="360">POLR2L</text></g>
<g id="b-POLR2J"><rect class="n bl" x="311" y="349" width="12" height="12"/><text x="318" y="358">POLR2J</text></g>
<g id="b-POLR2H"><circle class="n bl" cx="228" cy="365" r="5.5"/><text x="228" y="368">POLR2H</text></g>
<g id="b-U2AF2"><rect class="n bl" x="307" y="370" width="12" height="12"/><text x="313" y="379">U2AF2</text></g>
<g id="b-HNRNPM"><rect class="n p3" x="257" y="377" width="12" height="12"/><text x="263" y="386">HNRNPM</text></g>
<g id="b-DDX23"><rect class="n bl" x="224" y="392" width="12" height="12"/><text x="230" y="401">DDX23</text></g>
<g id="b-SRSF4"><rect class="n bl" x="292" y="392" width="12" height="12"/><text x="298" y="401">SRSF4</text></g>
</g>
<g id="panelC">
<g id="c-ATF4"><rect class="n q1" x="255" y="511" width="14" height="14"/><text x="262" y="521">ATF4</text></g>
<g id="c-CCR5"><rect class="n q1" x="158" y="539" width="14" height="14"/><text x="165" y="549">CCR5</text></g>
<g id="c-GNB5"><rect class="n q1" x="195" y="539" width="14" height="14"/><text x="202" y="549">GNB5</text></g>
<g id="c-CAST"><rect class="n q2" x="226" y="545" width="14" height="14"/><text x="233" y="555">CAST</text></g>
<g id="c-PRKCQ"><rect class="n q1" x="256" y="542" width="14" height="14"/><text x="263" y="552">PRKCQ</text></g>
<g id="c-BAX"><rect class="n q2" x="299" y="550" width="14" height="14"/><text x="306" y="560">BAX</text></g>
<g id="c-CCL5"><circle class="n q2" cx="189" cy="563" r="7"/><text x="189" y="566">CCL5</text></g>
<g id="c-TNFRSF1A"><rect class="n q1" x="139" y="564" width="14" height="14"/><text x="146" y="574">TNFRSF1A</text></g>
<g id="c-NR4A2"><rect class="n q1" x="249" y="562" width="14" height="14"/><text x="254" y="572">NR4A2</text></g>
<g id="c-APAF1"><rect class="n q1" x="278" y="565" width="14" height="14"/><text x="285" y="575">APAF1</text></g>
<g id="c-CUL2"><rect class="n q1" x="323" y="571" width="14" height="14"/><text x="330" y="581">CUL2</text></g>
<g id="c-CA2"><rect class="n bl" x="100" y="575" width="14" height="14"/><text x="107" y="585">CA2</text></g>
<g id="c-IKBKB"><rect class="n q2" x="167" y="575" width="14" height="14"/><text x="174" y="585">IKBKB</text></g>
<g id="c-CPT1B"><rect class="n q1" x="60" y="585" width="14" height="14"/><text x="67" y="595">CPT1B</text></g>
<g id="c-CAMK4"><rect class="n q1" x="146" y="587" width="14" height="14"/><text x="153" y="597">CAMK4</text></g>
<g id="c-MAPKAPK2"><rect class="n q1" x="223" y="583" width="14" height="14"/><text x="230" y="593">MAPKAPK2</text></g>
<g id="c-FAS"><rect class="n q2" x="118" y="596" width="14" height="14"/><text x="125" y="606">FAS</text></g>
<g id="c-HMOX1"><rect class="n q1" x="190" y="596" width="14" height="14"/><text x="197" y="606">HMOX1</text></g>
<g id="c-PRKACA"><rect class="n q1" x="251" y="596" width="14" height="14"/><text x="258" y="606">PRKACA</text></g>
<g id="c-HLA-DRA"><rect class="n q1" x="293" y="598" width="14" height="14"/><text x="300" y="608">HLA-DRA</text></g>
<g id="c-PGK1"><rect class="n q2" x="340" y="601" width="14" height="14"/><text x="347" y="611">PGK1</text></g>
<g id="c-CD69"><rect class="n q1" x="83" y="602" width="14" height="14"/><text x="90" y="612">CD69</text></g>
<g id="c-CREBBP"><rect class="n q2" x="213" y="605" width="14" height="14"/><text x="220" y="615">CREBBP</text></g>
<g id="c-TNF"><rect class="n q1" x="180" y="610" width="14" height="14"/><text x="187" y="620">TNF</text></g>
<g id="c-HIF1A"><rect class="n q1" x="315" y="616" width="14" height="14"/><text x="322" y="626">HIF1A</text></g>
<g id="c-STAT3"><rect class="n q1" x="108" y="619" width="14" height="14"/><text x="115" y="629">STAT3</text></g>
<g id="c-CAMK2G"><rect class="n q2" x="141" y="619" width="14" height="14"/><text x="148" y="629">CAMK2G</text></g>
<g id="c-AKT2"><rect class="n q2" x="230" y="622" width="14" height="14"/><text x="237" y="632">AKT2</text></g>
<g id="c-CREB1"><rect class="n q1" x="258" y="622" width="14" height="14"/><text x="265" y="632">CREB1</text></g>
<g id="c-NFKBIA"><rect class="n q1" x="177" y="629" width="14" height="14"/><text x="184" y="639">NFKBIA</text></g>
<g id="c-FOS"><rect class="n q1" x="202" y="627" width="14" height="14"/><text x="209" y="637">FOS</text></g>
<g id="c-CDC27"><rect class="n q3" x="53" y="637" width="14" height="14"/><text x="60" y="647">CDC27</text></g>
<g id="c-PSMB9"><rect class="n q1" x="83" y="642" width="14" height="14"/><text x="90" y="652">PSMB9</text></g>
<g id="c-STAT1"><rect class="n q1" x="125" y="642" width="14" height="14"/><text x="132" y="652">STAT1</text></g>
<g id="c-CTNNB1"><rect class="n q2" x="159" y="648" width="14" height="14"/><text x="166" y="658">CTNNB1</text></g>
<g id="c-PPP2R5C"><rect class="n q2" x="224" y="642" width="14" height="14"/><text x="231" y="652">PPP2R5C</text></g>
<g id="c-MAPK1"><rect class="n q1" x="274" y="639" width="14" height="14"/><text x="281" y="649">MAPK1</text></g>
<g id="c-APP"><rect class="n q1" x="314" y="644" width="14" height="14"/><text x="321" y="654">APP</text></g>
<g id="c-ADAM10"><rect class="n q1" x="348" y="650" width="14" height="14"/><text x="355" y="660">ADAM10</text></g>
<g id="c-AKT3"><rect class="n q3" x="183" y="656" width="14" height="14"/><text x="190" y="666">AKT3</text></g>
<g id="c-AKT1"><rect class="n q1" x="209" y="657" width="14" height="14"/><text x="216" y="667">AKT1</text></g>
<g id="c-IRF1"><rect class="n q1" x="98" y="663" width="14" height="14"/><text x="105" y="673">IRF1</text></g>
<g id="c-IL6"><rect class="n q1" x="135" y="663" width="14" height="14"/><text x="142" y="673">IL6</text></g>
<g id="c-SPI1"><rect class="n q1" x="247" y="660" width="14" height="14"/><text x="254" y="670">SPI1</text></g>
<g id="c-ITGAX"><rect class="n q1" x="295" y="665" width="14" height="14"/><text x="302" y="675">ITGAX</text></g>
<g id="c-PIK3R1"><rect class="n q2" x="150" y="678" width="14" height="14"/><text x="157" y="688">PIK3R1</text></g>
<g id="c-TGFB1"><rect class="n q2" x="180" y="675" width="14" height="14"/><text x="187" y="685">TGFB1</text></g>
<g id="c-ICAM1"><rect class="n q1" x="236" y="675" width="14" height="14"/><text x="243" y="685">ICAM1</text></g>
<g id="c-SNCA"><rect class="n q1" x="271" y="683" width="14" height="14"/><text x="278" y="693">SNCA</text></g>
<g id="c-IL6R"><rect class="n q1" x="73" y="687" width="14" height="14"/><text x="80" y="697">IL6R</text></g>
<g id="c-IL10RA"><rect class="n q2" x="114" y="687" width="14" height="14"/><text x="121" y="697">IL10RA</text></g>
<g id="c-FYN"><rect class="n q1" x="234" y="691" width="14" height="14"/><text x="241" y="701">FYN</text></g>
<g id="c-TGFBR2"><rect class="n q2" x="171" y="699" width="14" height="14"/><text x="175" y="709">TGFBR2</text></g>
<g id="c-CAMK2D"><rect class="n q1" x="196" y="693" width="14" height="14"/><text x="207" y="703">CAMK2D</text></g>
<g id="c-RAF1"><rect class="n q2" x="217" y="708" width="14" height="14"/><text x="224" y="718">RAF1</text></g>
<g id="c-ITGAM"><rect class="n q1" x="246" y="706" width="14" height="14"/><text x="253" y="716">ITGAM</text></g>
<g id="c-ITGAL"><rect class="n q1" x="273" y="706" width="14" height="14"/><text x="280" y="716">ITGAL</text></g>
<g id="c-IL4R"><rect class="n q2" x="112" y="717" width="14" height="14"/><text x="119" y="727">IL4R</text></g>
<g id="c-HGF"><rect class="n q1" x="142" y="712" width="14" height="14"/><text x="149" y="722">HGF</text></g>
<g id="c-PLCB3"><rect class="n q1" x="175" y="727" width="14" height="14"/><text x="182" y="737">PLCB3</text></g>
<g id="c-PAK1"><rect class="n q1" x="231" y="725" width="14" height="14"/><text x="238" y="735">PAK1</text></g>
<g id="c-ICAM2"><rect class="n q1" x="290" y="726" width="14" height="14"/><text x="297" y="736">ICAM2</text></g>
<g id="c-PPP3CB"><rect class="n q1" x="200" y="741" width="14" height="14"/><text x="207" y="751">PPP3CB</text></g>
<g id="c-ITPR1"><rect class="n q1" x="146" y="748" width="14" height="14"/><text x="153" y="758">ITPR1</text></g>
<g id="c-MBP"><rect class="n q2" x="249" y="748" width="14" height="14"/><text x="256" y="758">MBP</text></g>
<g id="c-PPP3CC"><rect class="n q1" x="217" y="764" width="14" height="14"/><text x="224" y="774">PPP3CC</text></g>
</g>
<g id="panelD" transform="translate(403,-9)">
<g id="d-ATF4"><rect class="n q1" x="255" y="511" width="14" height="14"/><text x="262" y="521">ATF4</text></g>
<g id="d-CCR5"><rect class="n q1" x="158" y="539" width="14" height="14"/><text x="165" y="549">CCR5</text></g>
<g id="d-GNB5"><rect class="n q1" x="195" y="539" width="14" height="14"/><text x="202" y="549">GNB5</text></g>
<g id="d-CAST"><rect class="n q3" x="226" y="545" width="14" height="14"/><text x="233" y="555">CAST</text></g>
<g id="d-PRKCQ"><rect class="n q0" x="256" y="542" width="14" height="14"/><text x="263" y="552">PRKCQ</text></g>
<g id="d-BAX"><rect class="n q3" x="299" y="550" width="14" height="14"/><text x="306" y="560">BAX</text></g>
<g id="d-CCL5"><circle class="n q2" cx="189" cy="563" r="7"/><text x="189" y="566">CCL5</text></g>
<g id="d-TNFRSF1A"><rect class="n q1" x="139" y="564" width="14" height="14"/><text x="146" y="574">TNFRSF1A</text></g>
<g id="d-NR4A2"><rect class="n q3" x="249" y="562" width="14" height="14"/><text x="254" y="572">NR4A2</text></g>
<g id="d-APAF1"><rect class="n q1" x="278" y="565" width="14" height="14"/><text x="285" y="575">APAF1</text></g>
<g id="d-CUL2"><rect class="n q0" x="323" y="571" width="14" height="14"/><text x="330" y="581">CUL2</text></g>
<g id="d-CA2"><rect class="n q1" x="100" y="575" width="14" height="14"/><text x="107" y="585">CA2</text></g>
<g id="d-IKBKB"><rect class="n q1" x="167" y="575" width="14" height="14"/><text x="174" y="585">IKBKB</text></g>
<g id="d-CPT1B"><circle class="n q4" cx="67" cy="592" r="7"/><text x="67" y="595">CPT1B</text></g>
<g id="d-CAMK4"><rect class="n q1" x="146" y="587" width="14" height="14"/><text x="153" y="597">CAMK4</text></g>
<g id="d-MAPKAPK2"><rect class="n q1" x="223" y="583" width="14" height="14"/><text x="230" y="593">MAPKAPK2</text></g>
<g id="d-FAS"><rect class="n q2" x="118" y="596" width="14" height="14"/><text x="125" y="606">FAS</text></g>
<g id="d-HMOX1"><rect class="n q1" x="190" y="596" width="14" height="14"/><text x="197" y="606">HMOX1</text></g>
<g id="d-PRKACA"><circle class="n q3" cx="258" cy="603" r="7"/><text x="258" y="606">PRKACA</text></g>
<g id="d-HLA-DRA"><rect class="n q0" x="293" y="598" width="14" height="14"/><text x="300" y="608">HLA-DRA</text></g>
<g id="d-PGK1"><rect class="n q1" x="340" y="601" width="14" height="14"/><text x="347" y="611">PGK1</text></g>
<g id="d-CD69"><rect class="n q1" x="83" y="602" width="14" height="14"/><text x="90" y="612">CD69</text></g>
<g id="d-CREBBP"><rect class="n q3" x="213" y="605" width="14" height="14"/><text x="220" y="615">CREBBP</text></g>
<g id="d-TNF"><circle class="n wt" cx="187" cy="617" r="7"/><text x="187" y="620">TNF</text></g>
<g id="d-HIF1A"><rect class="n q1" x="315" y="616" width="14" height="14"/><text x="322" y="626">HIF1A</text></g>
<g id="d-STAT3"><rect class="n q1" x="108" y="619" width="14" height="14"/><text x="115" y="629">STAT3</text></g>
<g id="d-CAMK2G"><circle class="n q3" cx="148" cy="626" r="7"/><text x="148" y="629">CAMK2G</text></g>
<g id="d-AKT2"><rect class="n q2" x="230" y="622" width="14" height="14"/><text x="237" y="632">AKT2</text></g>
<g id="d-CREB1"><rect class="n q1" x="258" y="622" width="14" height="14"/><text x="265" y="632">CREB1</text></g>
<g id="d-NFKBIA"><rect class="n q1" x="177" y="629" width="14" height="14"/><text x="184" y="639">NFKBIA</text></g>
<g id="d-FOS"><circle class="n fb" cx="209" cy="634" r="7"/><text x="209" y="637">FOS</text></g>
<g id="d-CDC27"><rect class="n q2" x="53" y="637" width="14" height="14"/><text x="60" y="647">CDC27</text></g>
<g id="d-PSMB9"><rect class="n q1" x="83" y="642" width="14" height="14"/><text x="90" y="652">PSMB9</text></g>
<g id="d-STAT1"><rect class="n q1" x="125" y="642" width="14" height="14"/><text x="132" y="652">STAT1</text></g>
<g id="d-CTNNB1"><rect class="n q1" x="159" y="648" width="14" height="14"/><text x="166" y="658">CTNNB1</text></g>
<g id="d-PPP2R5C"><rect class="n q1" x="224" y="642" width="14" height="14"/><text x="231" y="652">PPP2R5C</text></g>
<g id="d-MAPK1"><rect class="n q4" x="274" y="639" width="14" height="14"/><text x="281" y="649">MAPK1</text></g>
<g id="d-APP"><rect class="n rd" x="314" y="644" width="14" height="14"/><text x="321" y="654">APP</text></g>
<g id="d-ADAM10"><circle class="n q4" cx="355" cy="657" r="7"/><text x="355" y="660">ADAM10</text></g>
<g id="d-AKT3"><rect class="n rd" x="183" y="656" width="14" height="14"/><text x="190" y="666">AKT3</text></g>
<g id="d-AKT1"><rect class="n q1" x="209" y="657" width="14" height="14"/><text x="216" y="667">AKT1</text></g>
<g id="d-IRF1"><circle class="n q2" cx="105" cy="670" r="7"/><text x="105" y="673">IRF1</text></g>
<g id="d-IL6"><rect class="n q1" x="135" y="663" width="14" height="14"/><text x="142" y="673">IL6</text></g>
<g id="d-SPI1"><rect class="n q1" x="247" y="660" width="14" height="14"/><text x="254" y="670">SPI1</text></g>
<g id="d-ITGAX"><circle class="n rd" cx="302" cy="672" r="7"/><text x="302" y="675">ITGAX</text></g>
<g id="d-PIK3R1"><rect class="n q1" x="150" y="678" width="14" height="14"/><text x="157" y="688">PIK3R1</text></g>
<g id="d-TGFB1"><rect class="n q1" x="180" y="675" width="14" height="14"/><text x="187" y="685">TGFB1</text></g>
<g id="d-ICAM1"><rect class="n q1" x="236" y="675" width="14" height="14"/><text x="243" y="685">ICAM1</text></g>
<g id="d-SNCA"><rect class="n q1" x="271" y="683" width="14" height="14"/><text x="278" y="693">SNCA</text></g>
<g id="d-IL6R"><rect class="n q1" x="73" y="687" width="14" height="14"/><text x="80" y="697">IL6R</text></g>
<g id="d-IL10RA"><rect class="n q1" x="114" y="687" width="14" height="14"/><text x="121" y="697">IL10RA</text></g>
<g id="d-FYN"><rect class="n q1" x="234" y="691" width="14" height="14"/><text x="241" y="701">FYN</text></g>
<g id="d-TGFBR2"><rect class="n q1" x="171" y="699" width="14" height="14"/><text x="175" y="709">TGFBR2</text></g>
<g id="d-CAMK2D"><rect class="n q1" x="196" y="693" width="14" height="14"/><text x="207" y="703">CAMK2D</text></g>
<g id="d-RAF1"><rect class="n q1" x="217" y="708" width="14" height="14"/><text x="224" y="718">RAF1</text></g>
<g id="d-ITGAM"><rect class="n q1" x="246" y="706" width="14" height="14"/><text x="253" y="716">ITGAM</text></g>
<g id="d-ITGAL"><rect class="n q1" x="273" y="706" width="14" height="14"/><text x="280" y="716">ITGAL</text></g>
<g id="d-IL4R"><rect class="n q4" x="112" y="717" width="14" height="14"/><text x="119" y="727">IL4R</text></g>
<g id="d-HGF"><rect class="n q1" x="142" y="712" width="14" height="14"/><text x="149" y="722">HGF</text></g>
<g id="d-PLCB3"><rect class="n q1" x="175" y="727" width="14" height="14"/><text x="182" y="737">PLCB3</text></g>
<g id="d-PAK1"><circle class="n q2" cx="238" cy="732" r="7"/><text x="238" y="735">PAK1</text></g>
<g id="d-ICAM2"><rect class="n q1" x="290" y="726" width="14" height="14"/><text x="297" y="736">ICAM2</text></g>
<g id="d-PPP3CB"><rect class="n q1" x="200" y="741" width="14" height="14"/><text x="207" y="751">PPP3CB</text></g>
<g id="d-ITPR1"><rect class="n q1" x="146" y="748" width="14" height="14"/><text x="153" y="758">ITPR1</text></g>
<g id="d-MBP"><rect class="n q1" x="249" y="748" width="14" height="14"/><text x="256" y="758">MBP</text></g>
<g id="d-PPP3CC"><circle class="n rd" cx="224" cy="771" r="7"/><text x="224" y="774">PPP3CC</text></g>
</g>
</svg>
